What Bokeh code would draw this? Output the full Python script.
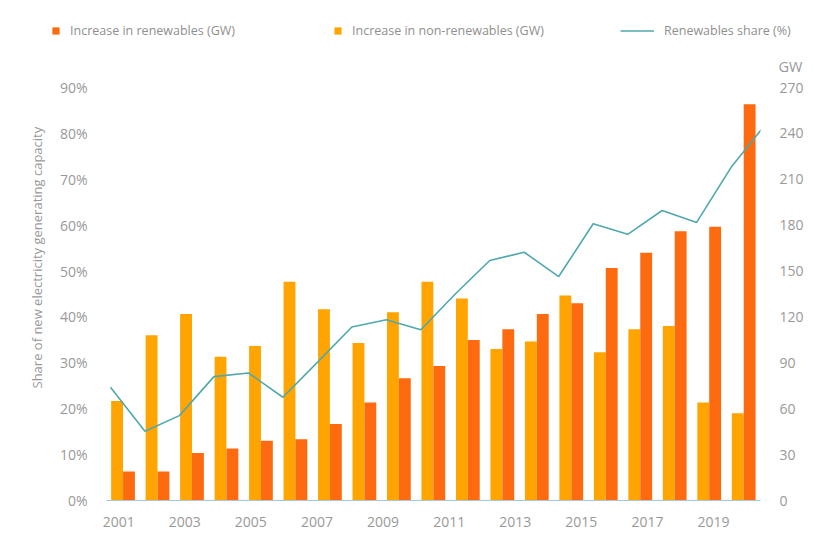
from bokeh.plotting import figure
from bokeh.layouts import column
from bokeh.models import (Range1d, LinearAxis, FixedTicker, PrintfTickFormatter,
                          ColumnDataSource, Legend, LegendItem, Label, Title)
from bokeh.embed import file_html
from bokeh.resources import INLINE

# ---------------- data ----------------
bar_years = [2001, 2002, 2003, 2004, 2005, 2006, 2007, 2008, 2009, 2010,
             2011, 2012, 2013, 2014, 2015, 2016, 2017, 2018, 2019]
renewables_gw = [19, 19, 31, 34, 39, 40, 50, 64, 80, 88,
                 105, 112, 122, 129, 152, 162, 176, 179, 259]
non_renewables_gw = [65, 108, 122, 94, 101, 143, 125, 103, 123, 143,
                     132, 99, 104, 134, 97, 112, 114, 64, 57]

share_years = [2001, 2002, 2003, 2004, 2005, 2006, 2007, 2008, 2009, 2010,
               2011, 2012, 2013, 2014, 2015, 2016, 2017, 2018, 2019, 2020]
renewables_share = [24.7, 15.1, 18.5, 27.0, 27.8, 22.5, 30.1, 37.8, 39.4, 37.2,
                    45.0, 52.3, 54.1, 48.8, 60.3, 58.0, 63.2, 60.6, 72.6, 82.0]

x_tick_years = [2001, 2003, 2005, 2007, 2009, 2011, 2013, 2015, 2017, 2019]
pct_ticks = [0, 10, 20, 30, 40, 50, 60, 70, 80, 90]
gw_ticks = [0, 30, 60, 90, 120, 150, 180, 210, 240, 270]

# ---------------- styles ----------------
C_REN = "#FD6A10"
C_NON = "#FFA400"
C_LINE = "#4FA9AC"
C_TXT = "#999999"
FONT = "Open Sans"

first_year = bar_years[0]
bar_src = ColumnDataSource(dict(
    x_non=[(y - first_year) + 0.192 for y in bar_years],
    x_ren=[(y - first_year) + 0.537 for y in bar_years],
    ren=renewables_gw,
    non=non_renewables_gw,
))
line_src = ColumnDataSource(dict(
    x=[(y - share_years[0]) for y in share_years],
    share=renewables_share,
))

# ---------------- legend strip (separate figure above the chart) ----------------
LEG_H = 75
lf = figure(width=806, height=LEG_H, output_backend="svg", toolbar_location=None,
            x_range=Range1d(0, 806), y_range=Range1d(LEG_H, 0),
            x_axis_location=None, y_axis_location=None,
            min_border_left=0, min_border_right=0, min_border_top=0,
            min_border_bottom=0, title=None)
lf.frame_align = False
lf.outline_line_color = None
lf.grid.visible = False
lf.border_fill_color = "white"
# legend key glyphs: same series, drawn on a range where they stay out of view
lf.extra_y_ranges = {"off": Range1d(1e6, 2e6)}
lf_ren = lf.vbar(x="x_ren", top="ren", width=1, source=bar_src, y_range_name="off",
                 fill_color=C_REN, line_color=None)
lf_non = lf.vbar(x="x_non", top="non", width=1, source=bar_src, y_range_name="off",
                 fill_color=C_NON, line_color=None)
lf_line = lf.line(x="x", y="share", source=line_src, y_range_name="off",
                  line_color=C_LINE, line_width=1.6)

def make_legend(label, rend, loc, gw):
    lg = Legend(items=[LegendItem(label=label, renderers=[rend])],
                location=loc, orientation="horizontal",
                glyph_width=gw, glyph_height=9, label_standoff=10,
                padding=0, margin=0, spacing=0,
                border_line_color=None, background_fill_alpha=0,
                label_text_font=FONT, label_text_font_size="12.5px",
                label_text_color="#8f8f8f", label_height=12)
    lf.add_layout(lg, "center")

make_legend("Increase in renewables (GW)", lf_ren, (51, 36), 9)
make_legend("Increase in non-renewables (GW)", lf_non, (333, 36), 9)
make_legend("Renewables share (%)", lf_line, (620, 36), 34)

lf.add_layout(Label(x=790, y=66, text="GW", text_align="center",
                    text_baseline="middle", text_font=FONT,
                    text_font_size="14.5px", text_color=C_TXT))

# ---------------- main chart ----------------
p = figure(width=806, height=457, output_backend="svg", toolbar_location=None,
           x_range=Range1d(-0.115, 18.852), y_range=Range1d(0, 90),
           x_axis_location=None, y_axis_location="left", title=None,
           min_border_left=106, min_border_right=39, min_border_top=12,
           min_border_bottom=32)
p.frame_align = False
p.outline_line_color = None
p.grid.visible = False
p.background_fill_color = "white"
p.border_fill_color = "white"

p.extra_y_ranges = {"gw": Range1d(0, 270)}
p.extra_x_ranges = {"yr": Range1d(2000.632, 2020.42)}

p.vbar(x="x_non", top="non", width=0.344, bottom=0, source=bar_src,
       y_range_name="gw", fill_color=C_NON, line_color=None)
p.vbar(x="x_ren", top="ren", width=0.344, bottom=0, source=bar_src,
       y_range_name="gw", fill_color=C_REN, line_color=None)
p.line(x="x", y="share", source=line_src, line_color=C_LINE, line_width=1.6)

def style_axis(ax):
    ax.axis_line_color = None
    ax.major_tick_line_color = None
    ax.minor_tick_line_color = None
    ax.major_label_text_font = FONT
    ax.major_label_text_font_size = "14px"
    ax.major_label_text_color = C_TXT
    ax.major_label_standoff = 13

ya = p.yaxis[0]
ya.ticker = FixedTicker(ticks=pct_ticks)
ya.formatter = PrintfTickFormatter(format="%d%%")
style_axis(ya)

ra = LinearAxis(y_range_name="gw", ticker=FixedTicker(ticks=gw_ticks))
style_axis(ra)
p.add_layout(ra, "right")

xa = LinearAxis(x_range_name="yr", ticker=FixedTicker(ticks=x_tick_years))
style_axis(xa)
xa.axis_line_color = "#A9C6D8"
xa.axis_line_width = 1.2
xa.major_label_standoff = 10
p.add_layout(xa, "below")

p.add_layout(Title(text="Share of new electricity generating capacity",
                   align="left", offset=112, standoff=21,
                   text_font=FONT, text_font_size="13px",
                   text_font_style="normal", text_color=C_TXT), "left")

layout = column(lf, p, spacing=0)
open("out.html", "w").write(file_html(layout, INLINE))
